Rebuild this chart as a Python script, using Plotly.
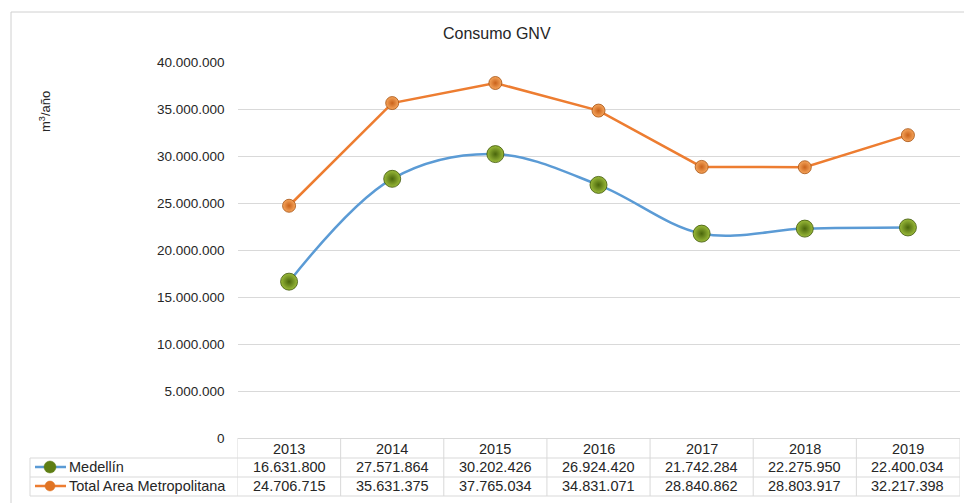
import plotly.graph_objects as go

# Data
years = ["2013", "2014", "2015", "2016", "2017", "2018", "2019"]
medellin = [16631800, 27571864, 30202426, 26924420, 21742284, 22275950, 22400034]
total_amva = [24706715, 35631375, 37765034, 34831071, 28840862, 28803917, 32217398]
series_names = ["Medellín", "Total Area Metropolitana"]
y_ticks = [0, 5000000, 10000000, 15000000, 20000000, 25000000, 30000000, 35000000, 40000000]

W, H = 964, 503
BLUE = "#5b9bd5"
ORANGE = "#ed7d31"
TEXT = "#262626"
GRID = "#d9d9d9"
FONT = "Liberation Sans, Arial, sans-serif"


def px(x):
    return x / W


def py(y):
    return 1 - y / H


def fmt(v):
    return f"{v:,}".replace(",", ".")


def label(x, y, text, size=14.5, xref="paper", xanchor="center", **kw):
    return dict(x=x, y=y, xref=xref, yref="paper", text=text, showarrow=False,
                xanchor=xanchor, yanchor="middle",
                font=dict(size=size, color=TEXT, family=FONT), **kw)


fig = go.Figure()

fig.add_trace(go.Scatter(
    x=list(range(len(years))), y=medellin, name=series_names[0],
    mode="lines+markers", line=dict(color=BLUE, width=2.5, shape="spline", smoothing=1.0),
    marker=dict(size=17, color="#9bbb3a", line=dict(color="#3d5508", width=0.8),
                gradient=dict(type="radial", color="#4a660c")),
))
fig.add_trace(go.Scatter(
    x=list(range(len(years))), y=total_amva, name=series_names[1],
    mode="lines+markers", line=dict(color=ORANGE, width=2.5),
    marker=dict(size=13, color="#f6a55c", line=dict(color="#a5500f", width=0.8),
                gradient=dict(type="radial", color="#c9621a")),
))

shapes = []
annotations = []

# Chart frame
shapes.append(dict(type="rect", xref="paper", yref="paper",
                   x0=px(11), x1=px(975), y0=py(515), y1=py(12),
                   line=dict(color="#d0d0d0", width=1), fillcolor="rgba(0,0,0,0)"))

# Data table below the plot
row_lines = [458, 477, 496]
for yl in row_lines:
    shapes.append(dict(type="line", xref="paper", yref="paper",
                       x0=px(30), x1=px(960), y0=py(yl), y1=py(yl),
                       line=dict(color=GRID, width=1)))
for k in range(len(years) + 1):
    shapes.append(dict(type="line", xref="x", yref="paper",
                       x0=k - 0.5, x1=k - 0.5, y0=py(496), y1=py(438),
                       line=dict(color=GRID, width=1)))
shapes.append(dict(type="line", xref="paper", yref="paper",
                   x0=px(30), x1=px(30), y0=py(496), y1=py(458),
                   line=dict(color=GRID, width=1)))

row_y = [449, 467, 486]
for i, yr in enumerate(years):
    annotations.append(label(i, py(row_y[0]), yr, xref="x"))
    annotations.append(label(i, py(row_y[1]), fmt(medellin[i]), xref="x"))
    annotations.append(label(i, py(row_y[2]), fmt(total_amva[i]), xref="x"))

# Legend keys inside the table
for name, color, mcol, r, yk in [(series_names[0], BLUE, "#5e7e14", 6, row_y[1]),
                                 (series_names[1], ORANGE, "#e07424", 5, row_y[2])]:
    shapes.append(dict(type="line", xref="paper", yref="paper",
                       x0=px(35), x1=px(66), y0=py(yk), y1=py(yk),
                       line=dict(color=color, width=2.5)))
    shapes.append(dict(type="circle", xref="paper", yref="paper",
                       x0=px(50 - r), x1=px(50 + r), y0=py(yk + r), y1=py(yk - r),
                       fillcolor=mcol, line=dict(color=mcol, width=0.5)))
    annotations.append(label(px(67), py(yk), name, xanchor="left"))

# Title and axis label
annotations.append(label(px(497), py(33), "Consumo GNV", size=16))
annotations.append(label(px(45), py(112), "m<sup>3</sup>/año", size=13, textangle=-90))

fig.update_layout(
    width=W, height=H, margin=dict(l=0, r=0, t=0, b=0, pad=0, autoexpand=False),
    paper_bgcolor="white", plot_bgcolor="white",
    separators=",.",
    showlegend=False,
    shapes=shapes, annotations=annotations,
    xaxis=dict(domain=[px(237.5), px(959.5)], range=[-0.5, len(years) - 0.5],
               showticklabels=False, showgrid=False, zeroline=False, showline=False, ticks="",
               automargin=False),
    yaxis=dict(domain=[py(438), py(62)], range=[0, 40000000], tickvals=y_ticks,
               tickformat=",.0f", showgrid=True, gridcolor=GRID, gridwidth=1,
               zeroline=True, zerolinecolor=GRID, zerolinewidth=1, showline=False, ticks="",
               automargin=False,
               ticklabelstandoff=12, tickfont=dict(size=13.5, color=TEXT, family=FONT)),
)

fig.write_html("out.html")
